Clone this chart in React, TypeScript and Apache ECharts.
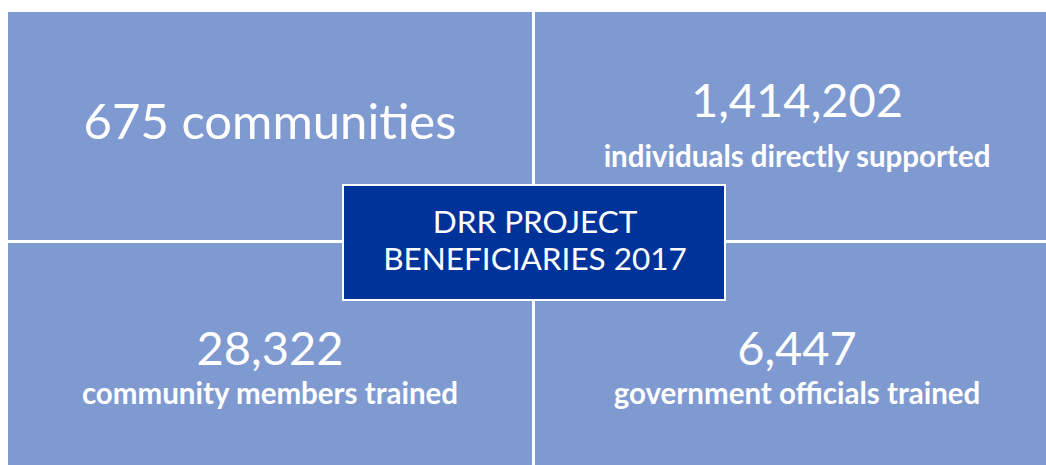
import React, { useEffect, useRef } from "react";
import * as echarts from "echarts";

const title = ["DRR PROJECT", "BENEFICIARIES 2017"];
const values = ["675 communities", "1,414,202", "28,322", "6,447"];
const captions = ["", "individuals directly supported", "community members trained", "government officials trained"];

const LIGHT = "#7F9AD1";
const DARK = "#003399";

export default function App() {
  const ref = useRef<HTMLDivElement>(null);
  useEffect(() => {
    const chart = echarts.init(ref.current!, null, { renderer: "svg" });
    const quads = [
      { x: 8, y: 12, w: 524, h: 228, cx: 270 },
      { x: 535, y: 12, w: 511, h: 228, cx: 797 },
      { x: 8, y: 243, w: 524, h: 222, cx: 270 },
      { x: 535, y: 243, w: 511, h: 222, cx: 797 },
    ];
    const valueY = [120, 99, 347, 347];
    const valueSize = [49, 47, 47, 47];
    const capY = [0, 155, 392, 392];
    const elements: any[] = [];
    quads.forEach((q) => {
      elements.push({ type: "rect", shape: { x: q.x, y: q.y, width: q.w, height: q.h }, style: { fill: LIGHT } });
    });
    quads.forEach((q, i) => {
      elements.push({
        type: "text",
        x: q.cx,
        y: valueY[i],
        style: { text: values[i], fill: "#fff", font: `${valueSize[i]}px Lato`, align: "center", verticalAlign: "middle" },
      });
      if (captions[i]) {
        elements.push({
          type: "text",
          x: q.cx,
          y: capY[i],
          style: { text: captions[i], fill: "#fff", font: "bold 29.5px Lato", align: "center", verticalAlign: "middle" },
        });
      }
    });
    elements.push({
      type: "rect",
      shape: { x: 343, y: 185, width: 382, height: 115 },
      style: { fill: DARK, stroke: "#fff", lineWidth: 2 },
    });
    title.forEach((t, i) => {
      elements.push({
        type: "text",
        x: 535,
        y: 221 + i * 37,
        style: { text: t, fill: "#fff", font: "31.5px Lato", align: "center", verticalAlign: "middle" },
      });
    });
    chart.setOption({ animation: false, graphic: { elements } });
    return () => chart.dispose();
  }, []);
  return <div ref={ref} style={{ position: "absolute", left: 0, top: 0, width: 1046, height: 465 }} />;
}
